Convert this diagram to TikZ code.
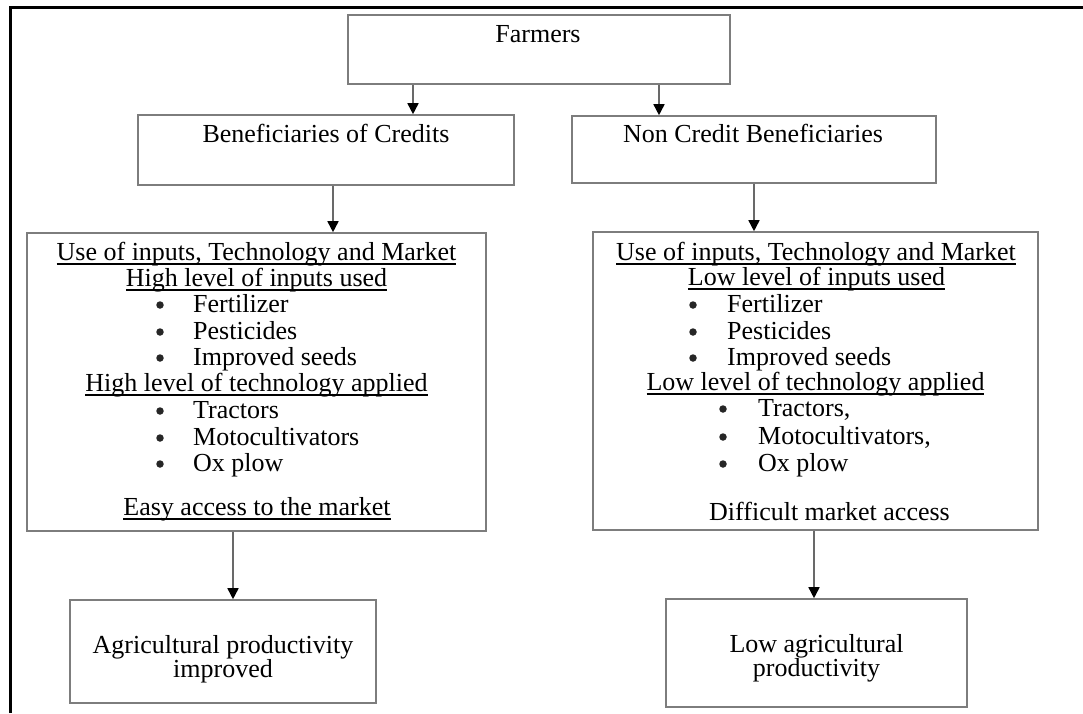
\documentclass[tikz,border=0pt]{standalone}
\usepackage{fontspec}
\setmainfont{Liberation Serif}
\usetikzlibrary{arrows.meta}
\definecolor{boxgray}{RGB}{125,125,125}
\definecolor{arrgray}{RGB}{105,105,105}
\newcommand{\undl}[1]{\setbox0\hbox{#1}\rlap{\rule[-4.5pt]{\wd0}{1.8pt}}\box0}
\tikzset{
    every node/.style={inner sep=0pt, font=\fontsize{26}{26.5}\selectfont}
}
\tikzset{
    box/.style={draw=boxgray, line width=1.6pt, rectangle},
    txt/.style={anchor=base},
    item/.style={anchor=base west},
    dot/.style={circle, fill=black!85, minimum size=7.5pt},
    twoline/.style={align=center, font=\fontsize{26}{24}\selectfont},
    arr/.style={draw=arrgray, line width=1.6pt,
        -{Triangle[length=11pt,width=11pt,fill=black,color=black]}}
}

\begin{document}
\begin{tikzpicture}[x=1pt, y=-1pt]
  \useasboundingbox (0,0) rectangle (1083,713);
  \draw [line width=3pt] (10,713) -- (10,7) -- (1083,7);

  \node (farm) [box, minimum width=382pt, minimum height=69pt] at (539, 49.5) {};
  \node (ben) [box, minimum width=376pt, minimum height=70pt] at (326, 150) {};
  \node (nonc) [box, minimum width=364pt, minimum height=67pt] at (754, 149.5) {};
  \node (lb) [box, minimum width=459pt, minimum height=298pt] at (256.5, 382) {};
  \node (rb) [box, minimum width=445pt, minimum height=298pt] at (815.5, 381) {};
  \node (agri) [box, minimum width=306pt, minimum height=103pt] at (223, 651.5) {};
  \node (low) [box, minimum width=301pt, minimum height=108pt] at (816.5, 653) {};

  \node (farmT) [txt] at (538, 42) {Farmers};
  \node (benT) [txt] at (326, 142) {Beneficiaries of Credits};
  \node (noncT) [txt] at (753, 142) {Non Credit Beneficiaries};

  % credit side
  \node (lh1) [txt] at (256.5, 260) {\undl{Use of inputs, Technology and Market}};
  \node (lh2) [txt] at (256.5, 286) {\undl{High level of inputs used}};
  \node (lh3) [txt] at (256.5, 391) {\undl{High level of technology applied}};
  \node (lh4) [txt] at (257, 515) {\undl{Easy access to the market}};
  \foreach \i/\t/\yy in {1/Fertilizer/312, 2/Pesticides/339, 3/Improved seeds/365,
      4/Tractors/418, 5/Motocultivators/445, 6/Ox plow/471} {
    \node (lbul\i) [dot] at (160, \yy-7) {};
    \node (lit\i) [item] at (193, \yy) {\t};
  }

  % non credit side
  \node (rh1) [txt] at (816, 260) {\undl{Use of inputs, Technology and Market}};
  \node (rh2) [txt] at (816.5, 285) {\undl{Low level of inputs used}};
  \node (rh3) [txt] at (815.5, 390) {\undl{Low level of technology applied}};
  \node (rh4) [txt] at (829.5, 520) {Difficult market access};
  \foreach \i/\t/\yy in {1/Fertilizer/312, 2/Pesticides/339, 3/Improved seeds/365} {
    \node (rbul\i) [dot] at (693, \yy-7) {};
    \node (rit\i) [item] at (727, \yy) {\t};
  }
  \foreach \i/\t/\yy in {4/{Tractors,}/416, 5/{Motocultivators,}/444, 6/Ox plow/471} {
    \node (rbul\i) [dot] at (723, \yy-7) {};
    \node (rit\i) [item] at (758, \yy) {\t};
  }

  \node (agriT) [twoline] at (223, 659) {Agricultural productivity\\improved};
  \node (lowT) [twoline] at (816.5, 658) {Low agricultural\\productivity};

  \coordinate (c1) at (413, 0);
  \coordinate (c2) at (659, 0);
  \coordinate (c3) at (333, 0);
  \coordinate (c4) at (233, 0);
  \coordinate (c5) at (814, 0);

  \draw [arr] (farm.south -| c1) -- (ben.north -| c1);
  \draw [arr] (farm.south -| c2) -- (nonc.north -| c2);
  \draw [arr] (ben.south -| c3) -- (lb.north -| c3);
  \draw [arr] (nonc.south) -- (rb.north -| nonc.south);
  \draw [arr] (lb.south -| c4) -- (agri.north -| c4);
  \draw [arr] (rb.south -| c5) -- (low.north -| c5);
\end{tikzpicture}
\end{document}
